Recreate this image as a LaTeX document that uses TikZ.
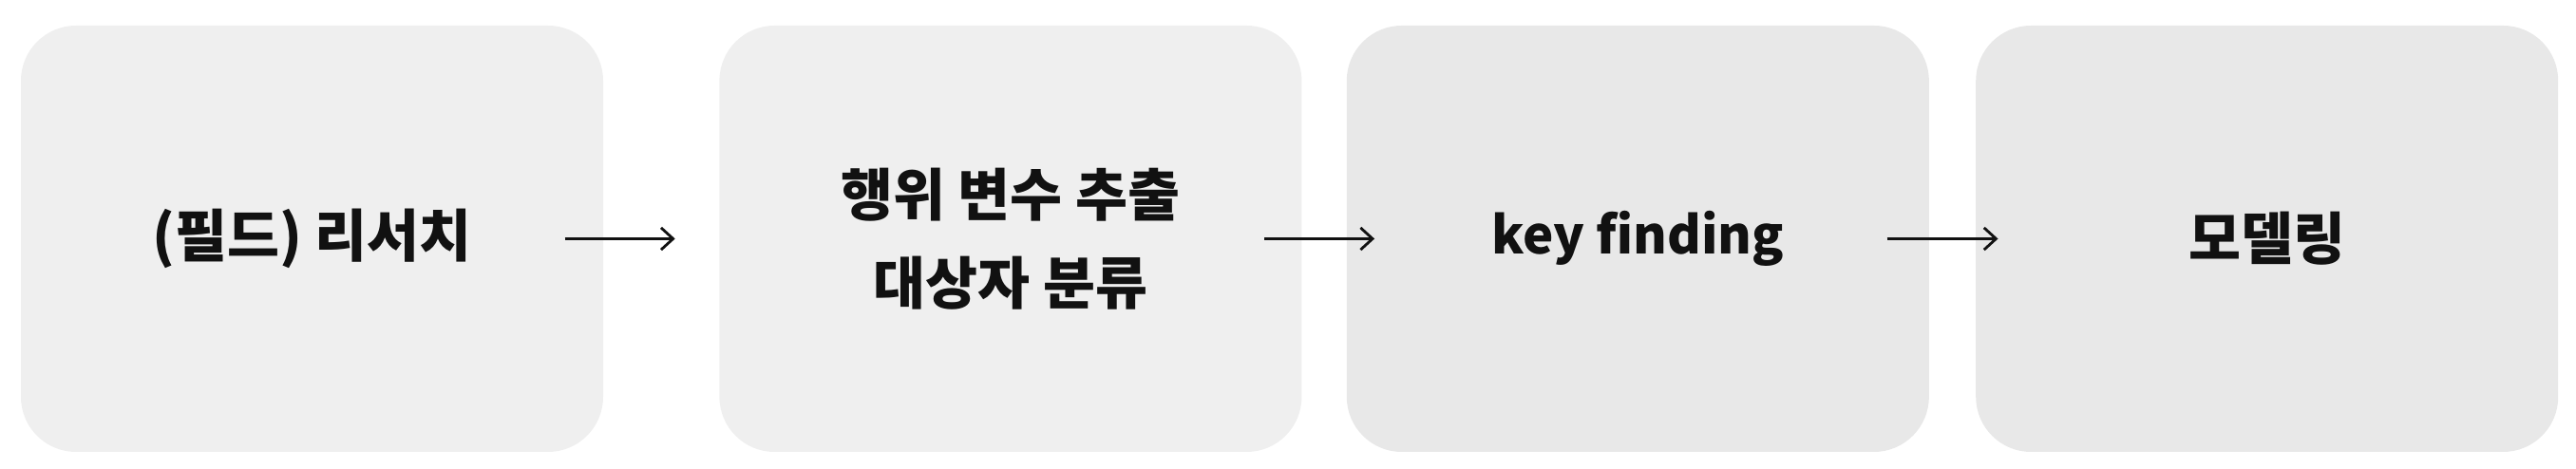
\documentclass[tikz,border=0pt]{standalone}
\usepackage{fontspec}
\setmainfont{Noto Sans CJK KR}
\usepackage{xcolor}
\usepackage{tikz}
\usetikzlibrary{arrows.meta,positioning}
\definecolor{paper1}{HTML}{EFEFEF}
\definecolor{paper2}{HTML}{E8E8E8}
\definecolor{ink}{HTML}{111111}
\tikzset{
  stagebox/.style={
    rectangle, rounded corners=0.58cm, draw=none, fill=#1,
    minimum width=6.13cm, minimum height=4.49cm,
    font=\fontsize{17}{26.5}\selectfont\bfseries, text=ink, align=center,
    inner sep=0pt
  },
  stagebox/.default=paper1,
  flowarrow/.style={
    -{Straight Barb[length=3.6pt, width=6.6pt, line width=0.8pt]},
    line width=0.75pt, color=ink
  },
}

\begin{document}
\begin{tikzpicture}[node distance=0.46cm]
  \useasboundingbox (0,0) rectangle (27.12,4.94);
  \node[stagebox=paper1] at (3.285,2.425) (research) {(필드) 리서치};
  \node[stagebox=paper1, right=1.21cm of research] (extract) {행위 변수 추출\\대상자 분류};
  \node[stagebox=paper2, right=of extract, font=\fontsize{15.5}{20}\selectfont\bfseries] (keyfind) {key finding};
  \node[stagebox=paper2, right=0.48cm of keyfind] (model) {모델링};
  \draw[flowarrow] ([xshift=-0.41cm]research.east) -- ([xshift=-0.46cm]extract.west);
  \draw[flowarrow] ([xshift=-0.40cm]extract.east) -- ([xshift=0.30cm]keyfind.west);
  \draw[flowarrow] ([xshift=-0.45cm]keyfind.east) -- ([xshift=0.24cm]model.west);
\end{tikzpicture}
\end{document}
